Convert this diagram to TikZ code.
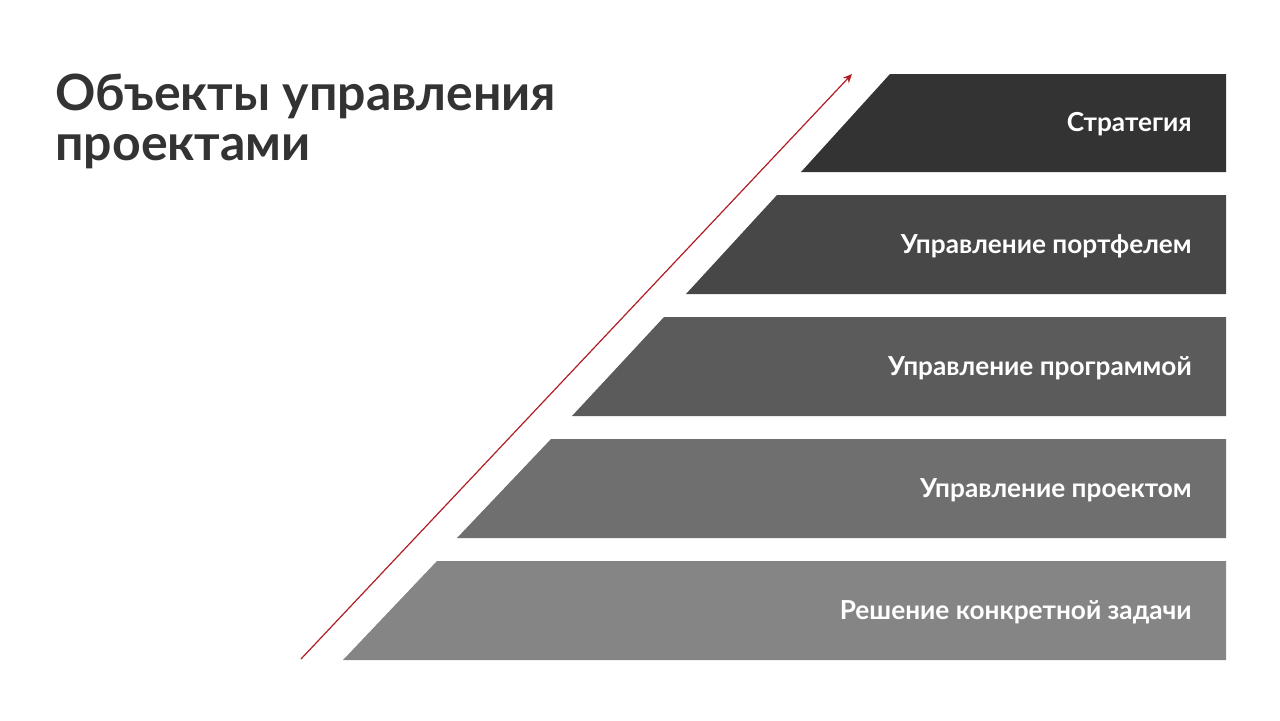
\documentclass[tikz,border=0pt]{standalone}
\usepackage{fontspec}
\setmainfont{Lato}
\usepackage{tikz}
\usetikzlibrary{arrows.meta, calc, positioning}

\definecolor{titlegray}{HTML}{333333}
\definecolor{levelA}{HTML}{333333}
\definecolor{levelB}{HTML}{474747}
\definecolor{levelC}{HTML}{5B5B5B}
\definecolor{levelD}{HTML}{6F6F6F}
\definecolor{levelE}{HTML}{858585}
\definecolor{arrowred}{HTML}{B01E23}

\begin{document}
\begin{tikzpicture}[x=0.5pt, y=0.5pt,
  every node/.style={inner sep=0pt},
  leveltext/.style={anchor=east, text=white, font=\fontsize{13.1}{15}\selectfont\bfseries}]
\useasboundingbox (0,0) rectangle (1280,720);

% title
\node[anchor=north west, align=left, text=titlegray,
      font=\fontsize{25}{25}\selectfont\bfseries] (title) at (55,646)
  {Объекты управления\\проектами};

% levels, bottom to top
\fill[levelA] (890,646) -- (1226,646) -- (1226,548) -- (801,548) -- cycle;
\fill[levelB] (777,525) -- (1226,525) -- (1226,426) -- (686,426) -- cycle;
\fill[levelC] (664,403) -- (1226,403) -- (1226,304) -- (572,304) -- cycle;
\fill[levelD] (551,281) -- (1226,281) -- (1226,182) -- (457,182) -- cycle;
\fill[levelE] (437,159) -- (1226,159) -- (1226,60) -- (343,60) -- cycle;

\node[leveltext] (strategy) at (1192,596) {Стратегия};
\node[leveltext] (portfolio) at (1192,474) {Управление портфелем};
\node[leveltext] (programme) at (1192,352) {Управление программой};
\node[leveltext] (project) at (1192,230) {Управление проектом};
\node[leveltext] (task) at (1192,108) {Решение конкретной задачи};

% growth arrow
\coordinate (arrowstart) at (301,61);
\coordinate (arrowend) at (852,646);
\draw[arrowred, line width=0.6pt, -{Stealth[length=4.5pt, width=4pt]}] (arrowstart) -- (arrowend);
\end{tikzpicture}
\end{document}
